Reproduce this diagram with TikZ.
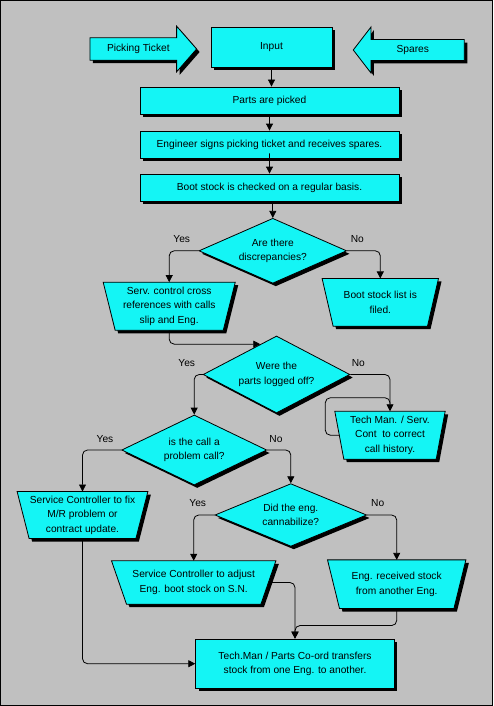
\documentclass[tikz,border=0pt]{standalone}
\usepackage{fontspec}
\setmainfont{Liberation Sans}
\usetikzlibrary{shapes.geometric,shapes.arrows,shadows,arrows.meta,calc}
\definecolor{bgray}{RGB}{192,192,192}
\definecolor{cfill}{RGB}{20,245,245}
\pgfdeclarelayer{back}
\pgfdeclarelayer{shp}
\pgfsetlayers{back,shp,main}
\newcommand\fsz{\fontsize{10.2}{14.5}\selectfont}
\tikzset{
  base/.style={draw=black, line width=0.8pt, fill=cfill, inner sep=0pt, align=center, font=\fsz,
    general shadow={fill=black, shadow xshift=3pt, shadow yshift=-3pt}},
  box/.style={base, rectangle},
  dec/.style={base, diamond},
  tbox/.style={rectangle, inner sep=0pt, align=center, font=\fsz},
  conn/.style={line width=0.8pt, rounded corners=5pt, -{Triangle[width=7pt,length=7pt]}},
  plain/.style={line width=0.8pt, rounded corners=5pt},
  lbl/.style={font=\fsz, inner sep=0pt},
}
\newcommand\trapshape[2]{%
  \begin{pgfonlayer}{shp}
    \fill[black] ($(#1.north west)+(3,3)$) -- ($(#1.north east)+(3,3)$) --
      ($(#1.south east)+(3-#2,3)$) -- ($(#1.south west)+(3+#2,3)$) -- cycle;
    \filldraw[fill=cfill, draw=black, line width=0.8pt] (#1.north west) -- (#1.north east) --
      ($(#1.south east)+(-#2,0)$) -- ($(#1.south west)+(#2,0)$) -- cycle;
  \end{pgfonlayer}}
\begin{document}
\begin{tikzpicture}[x=1pt,y=-1pt]
\useasboundingbox (0,0) rectangle (493,706);
\begin{pgfonlayer}{back}
  \fill[bgray] (0,0) rectangle (493,706);
  \draw[black, line width=1pt] (0.5,0.5) rectangle (492.5,705.5);
\end{pgfonlayer}

% top row
\node[base, single arrow, minimum height=106.7pt, minimum width=45.7pt,
  single arrow head extend=5.35pt, single arrow tip angle=97.6, single arrow head indent=0pt]
  (pick) at (138.35,49) {Picking Ticket};
\node[box, minimum width=121pt, minimum height=40pt] (input) at (271.5,47) {Input};
\node[base, single arrow, shape border rotate=180, minimum height=111pt, minimum width=46pt,
  single arrow head extend=6pt, single arrow tip angle=104.8, single arrow head indent=0pt]
  (spares) at (412.8,50) {Spares};

\node[box, minimum width=259pt, minimum height=27pt] (parts) at (269.5,100.5) {Parts are picked};
\node[box, minimum width=259pt, minimum height=27pt] (eng) at (269.5,144.5) {Engineer signs picking ticket and receives spares.};
\node[box, minimum width=259pt, minimum height=27pt] (boot) at (269.5,187.5) {Boot stock is checked on a regular basis.};

% decisions
\node[dec, aspect=2.27, minimum width=147.7pt, minimum height=65pt] (d1) at (272.8,250.8) {Are there\\discrepancies?};
\node[dec, aspect=1.9, minimum width=146.7pt, minimum height=77pt] (d2) at (276.5,374.5) {Were the\\parts logged off?};
\node[dec, aspect=2.07, minimum width=145pt, minimum height=70pt] (d3) at (194.2,450) {is the call a\\problem call?};
\node[dec, aspect=2.42, minimum width=151.7pt, minimum height=62.7pt] (d4) at (290.8,515) {Did the eng.\\cannabilize?};

% trapezoids
\node[tbox, minimum width=131.7pt, minimum height=47.7pt] (t1) at (169.2,306.2) {Serv. control cross\\references with calls\\slip and Eng.};
\trapshape{t1}{12}
\node[tbox, minimum width=116pt, minimum height=47.3pt] (t2) at (380.3,302.3) {Boot stock list is\\filed.};
\trapshape{t2}{11}
\node[tbox, minimum width=110pt, minimum height=47.5pt] (t3) at (390,435.2) {Tech Man. / Serv.\\Cont~ to correct\\call history.};
\trapshape{t3}{9}
\node[tbox, minimum width=130.4pt, minimum height=46.6pt] (t4) at (82.5,515) {Service Controller to fix\\M/R problem or\\contract update.};
\trapshape{t4}{12}
\node[tbox, minimum width=164pt, minimum height=43pt] (t5) at (193.7,582.5) {Service Controller to adjust\\Eng. boot stock on S.N.};
\trapshape{t5}{15}
\node[tbox, minimum width=138pt, minimum height=48.3pt] (t6) at (396.7,584.2) {Eng. received stock\\from another Eng.};
\trapshape{t6}{12}

\node[box, minimum width=198.6pt, minimum height=49.3pt] (final) at (295,663.7) {Tech.Man / Parts Co-ord transfers\\stock from one Eng. to another.};

% labels
\node[lbl] (y1) at (181.7,239) {Yes};
\node[lbl] (n1) at (357.3,239) {No};
\node[lbl] (y2) at (186.7,362.7) {Yes};
\node[lbl] (n2) at (358.3,362.7) {No};
\node[lbl] (y3) at (105,439) {Yes};
\node[lbl] (n3) at (276,439) {No};
\node[lbl] (y4) at (197.7,503.3) {Yes};
\node[lbl] (n4) at (377.7,503.3) {No};

% connectors
\draw[conn] (input.south) -- (input.south |- parts.north);
\draw[conn] (parts.south) -- (eng.north);
\draw[conn] (eng.south) -- (boot.south |- eng.south) -- (boot.north);
\draw[conn] (boot.south -| d1.north) -- (d1.north);
\draw[conn] (d1.west) -| (t1.north);
\draw[conn] (d1.east) -| (t2.north);
\coordinate (d2in) at ($(d2.west)!0.78!(d2.north)$);
\draw[conn] (t1.south) |- (d2in);
\draw[conn] (d2.west) -| (d3.north);
\draw[conn] (d2.east) -| (t3.north);
\draw[plain] ($(t3.west)+(4.5,0)$) -- ++(-14,0) |- ($(t3.north)+(0,-13.5)$) -- ($(t3.north)+(0,-7)$);
\draw[conn] (d3.west) -| (t4.north);
\draw[conn] (d3.east) -| (d4.north);
\draw[conn] (d4.west) -| (t5.north);
\draw[conn] (d4.east) -| (t6.north);
\draw[conn] ($(t5.east)+(-5,0)$) -| (final.north);
\draw[conn] (t6.south) -- ++(0,17) -| (final.north);
\draw[conn] (t4.south) |- (final.west);
\end{tikzpicture}
\end{document}
